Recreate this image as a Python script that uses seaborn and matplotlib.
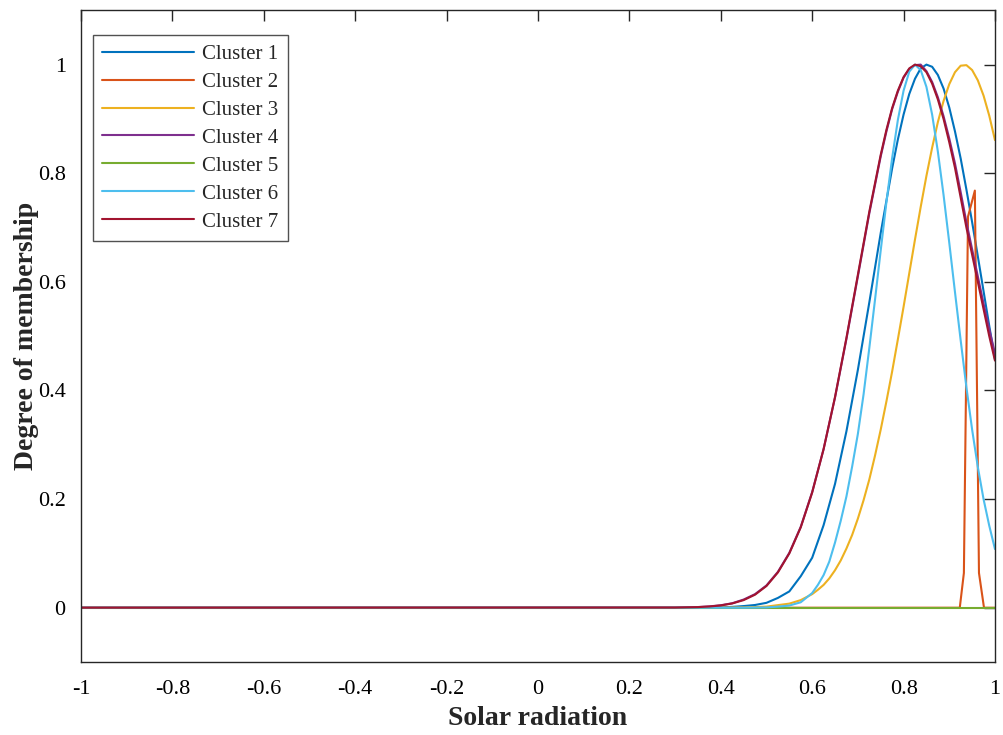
import pandas as pd
import matplotlib.pyplot as plt
import seaborn as sns

# ================= DATA =================
x_c1 = [-1.0, 0.30, 0.35, 0.40, 0.425, 0.45, 0.475, 0.50, 0.525, 0.55, 0.575, 0.60, 0.625,
        0.65, 0.675, 0.70, 0.725, 0.75, 0.775, 0.7875, 0.80, 0.8125, 0.825, 0.8375, 0.85,
        0.8625, 0.875, 0.8875, 0.90, 0.9125, 0.925, 0.9375, 0.95, 0.9625, 0.975, 0.9875, 1.0]
y_c1 = [0.0, 0.0, 0.0001, 0.0007, 0.0015, 0.003, 0.005, 0.009, 0.018, 0.030, 0.058, 0.092,
        0.152, 0.228, 0.325, 0.438, 0.562, 0.690, 0.809, 0.862, 0.908, 0.946, 0.974, 0.993,
        1.0, 0.996, 0.981, 0.956, 0.921, 0.877, 0.827, 0.770, 0.710, 0.647, 0.583, 0.519, 0.457]

x_c2 = [-1.0, 0.923, 0.932, 0.941, 0.956, 0.965, 0.976, 1.0]
y_c2 = [0.0, 0.0, 0.064, 0.72, 0.768, 0.064, 0.0, 0.0]

x_c3 = [-1.0, 0.40, 0.45, 0.50, 0.55, 0.575, 0.60, 0.6125, 0.625, 0.6375, 0.65, 0.6625,
        0.675, 0.6875, 0.70, 0.7125, 0.725, 0.7375, 0.75, 0.7625, 0.775, 0.7875, 0.80,
        0.8125, 0.825, 0.8375, 0.85, 0.8625, 0.875, 0.8875, 0.90, 0.9125, 0.925, 0.9375,
        0.95, 0.9625, 0.975, 0.9875, 1.0]
y_c3 = [0.0, 0.0001, 0.0004, 0.002, 0.0075, 0.014, 0.025, 0.033, 0.042, 0.054, 0.069, 0.087,
        0.109, 0.134, 0.164, 0.198, 0.236, 0.280, 0.328, 0.380, 0.435, 0.494, 0.554, 0.616,
        0.678, 0.738, 0.795, 0.847, 0.894, 0.933, 0.964, 0.986, 0.998, 0.999, 0.990, 0.971,
        0.943, 0.906, 0.861]

x_c4 = [-1.0, 0.30, 0.35, 0.375, 0.40, 0.425, 0.45, 0.475, 0.50, 0.525, 0.55, 0.575, 0.60,
        0.625, 0.65, 0.675, 0.70, 0.725, 0.75, 0.7625, 0.775, 0.7875, 0.80, 0.8125, 0.825,
        0.8375, 0.85, 0.8625, 0.875, 0.8875, 0.90, 0.9125, 0.925, 0.9375, 0.95, 0.9625,
        0.975, 0.9875, 1.0]
y_c4 = [0.0, 0.0003, 0.0012, 0.0024, 0.0045, 0.0082, 0.015, 0.025, 0.041, 0.066, 0.101,
        0.149, 0.213, 0.292, 0.387, 0.495, 0.610, 0.726, 0.831, 0.877, 0.918, 0.950, 0.976,
        0.992, 0.999, 1.0, 0.988, 0.968, 0.940, 0.905, 0.864, 0.818, 0.765, 0.71, 0.66,
        0.61, 0.56, 0.513, 0.468]

x_c5 = [-1.0, 1.0]
y_c5 = [0.0, 0.0]

x_c6 = [-1.0, 0.45, 0.50, 0.525, 0.55, 0.575, 0.60, 0.6125, 0.625, 0.6375, 0.65, 0.6625,
        0.675, 0.6875, 0.70, 0.7125, 0.725, 0.7375, 0.75, 0.7625, 0.775, 0.7875, 0.80,
        0.8125, 0.825, 0.8375, 0.85, 0.8625, 0.875, 0.8875, 0.90, 0.9125, 0.925, 0.9375,
        0.95, 0.9625, 0.975, 0.9875, 1.0]
y_c6 = [0.0, 0.0, 0.0005, 0.002, 0.004, 0.010, 0.027, 0.042, 0.060, 0.085, 0.12, 0.16,
        0.205, 0.26, 0.32, 0.393, 0.478, 0.567, 0.658, 0.747, 0.828, 0.898, 0.952, 0.987,
        1.0, 0.990, 0.959, 0.908, 0.840, 0.760, 0.672, 0.581, 0.492, 0.406, 0.328, 0.259,
        0.200, 0.151, 0.108]

x_c7 = [-1.0, 0.30, 0.35, 0.375, 0.40, 0.425, 0.45, 0.475, 0.50, 0.525, 0.55, 0.575, 0.60,
        0.625, 0.65, 0.675, 0.70, 0.725, 0.75, 0.7625, 0.775, 0.7875, 0.80, 0.8125, 0.825,
        0.8375, 0.85, 0.8625, 0.875, 0.8875, 0.90, 0.9125, 0.925, 0.9375, 0.95, 0.9625,
        0.975, 0.9875, 1.0]
y_c7 = [0.0, 0.0002, 0.0011, 0.0022, 0.0042, 0.0078, 0.014, 0.024, 0.040, 0.065, 0.100,
        0.148, 0.212, 0.292, 0.388, 0.497, 0.613, 0.729, 0.834, 0.880, 0.920, 0.952, 0.977,
        0.993, 1.0, 0.997, 0.986, 0.965, 0.936, 0.900, 0.857, 0.81, 0.755, 0.70, 0.65,
        0.60, 0.55, 0.50, 0.455]

cluster_names = ["Cluster 1", "Cluster 2", "Cluster 3", "Cluster 4",
                 "Cluster 5", "Cluster 6", "Cluster 7"]
xs = [x_c1, x_c2, x_c3, x_c4, x_c5, x_c6, x_c7]
ys = [y_c1, y_c2, y_c3, y_c4, y_c5, y_c6, y_c7]

# MATLAB default line colours
colors = ["#0072BD", "#D95319", "#EDB120", "#7E2F8E", "#77AC30", "#4DBEEE", "#A2142F"]

frames = []
for name, xv, yv in zip(cluster_names, xs, ys):
    frames.append(pd.DataFrame({"x": xv, "y": yv, "Cluster": name}))
df = pd.concat(frames, ignore_index=True)

# ================= STYLE =================
sns.set_theme(style="white")
plt.rcParams["font.family"] = ["Liberation Serif", "DejaVu Serif"]

fig = plt.figure(figsize=(10.04, 7.35), dpi=100)
ax = fig.add_axes([0.0807, 0.0993, 0.9103, 0.8867])

sns.lineplot(data=df, x="x", y="y", hue="Cluster", palette=colors,
             estimator=None, sort=False, linewidth=1.5, ax=ax)

ax.set_xlim(-1, 1)
ax.set_ylim(-0.1, 1.1)
ax.set_xticks([-1, -0.8, -0.6, -0.4, -0.2, 0, 0.2, 0.4, 0.6, 0.8, 1])
ax.set_xticklabels(["-1", "-0.8", "-0.6", "-0.4", "-0.2", "0", "0.2", "0.4", "0.6", "0.8", "1"])
ax.set_yticks([0, 0.2, 0.4, 0.6, 0.8, 1])
ax.set_yticklabels(["0", "0.2", "0.4", "0.6", "0.8", "1"])
ax.tick_params(direction="in", length=8, width=1.0, colors="#262626",
               labelsize=16, top=True, right=True, labelcolor="black")
ax.tick_params(axis="x", pad=13)
ax.tick_params(axis="y", pad=11)
for s in ax.spines.values():
    s.set_color("#262626")
    s.set_linewidth(1.0)

ax.set_xlabel("Solar radiation", fontsize=20, fontweight="bold", labelpad=5)
ax.set_ylabel("Degree of membership", fontsize=20, fontweight="bold", labelpad=-1)

leg = ax.legend(loc="upper left", bbox_to_anchor=(0.013, 0.962), fontsize=15,
                frameon=True, fancybox=False, handlelength=4.4, handletextpad=0.4,
                labelspacing=0.40, borderpad=0.45, borderaxespad=0)
leg.get_frame().set_edgecolor("#262626")
leg.get_frame().set_linewidth(1.0)

fig.savefig("out.png", dpi=100)
